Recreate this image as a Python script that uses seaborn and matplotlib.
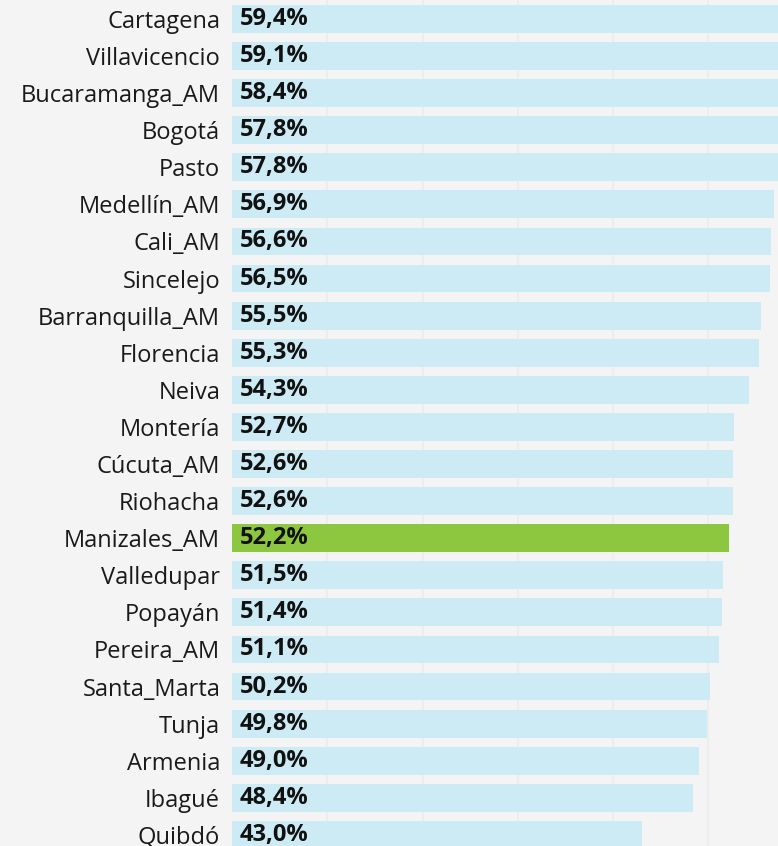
import pandas as pd
import matplotlib.pyplot as plt
import seaborn as sns

# Data
cities = ['Cartagena', 'Villavicencio', 'Bucaramanga_AM', 'Bogotá', 'Pasto',
          'Medellín_AM', 'Cali_AM', 'Sincelejo', 'Barranquilla_AM', 'Florencia',
          'Neiva', 'Montería', 'Cúcuta_AM', 'Riohacha', 'Manizales_AM',
          'Valledupar', 'Popayán', 'Pereira_AM', 'Santa_Marta', 'Tunja',
          'Armenia', 'Ibagué', 'Quibdó']
values = [59.4, 59.1, 58.4, 57.8, 57.8, 56.9, 56.6, 56.5, 55.5, 55.3,
          54.3, 52.7, 52.6, 52.6, 52.2, 51.5, 51.4, 51.1, 50.2, 49.8,
          49.0, 48.4, 43.0]
highlight_city = 'Manizales_AM'

BG = '#f4f4f4'
BAR = '#cdebf4'
GREEN = '#8dc63f'


def main():
    sns.set_theme(style='white')
    plt.rcParams['font.family'] = ['Open Sans', 'DejaVu Sans']

    df = pd.DataFrame({'city': cities, 'value': values})
    df['group'] = ['hi' if c == highlight_city else 'lo' for c in df['city']]

    fig = plt.figure(figsize=(7.78, 8.46), dpi=100, facecolor=BG)
    ax = fig.add_axes([232 / 778, 0, 1 - 232 / 778, 1])
    ax.set_facecolor(BG)

    sns.barplot(data=df, x='value', y='city', hue='group',
                palette={'hi': GREEN, 'lo': BAR}, orient='h',
                width=0.75, legend=False, dodge=False, saturation=1,
                linewidth=0, ax=ax, zorder=2)

    # value labels inside bars
    for i, v in enumerate(values):
        ax.annotate(f"{v:.1f}".replace('.', ',') + '%', xy=(0, i),
                    xytext=(5.8, 0), textcoords='offset points',
                    ha='left', va='center', fontsize=17,
                    fontweight='bold', color='#111111', zorder=3)

    ax.set_xlim(0, 57.3)
    ax.set_ylim(22.3, -0.51)
    ax.set_xticks([10, 20, 30, 40, 50])
    ax.xaxis.grid(True, color='#ededed', linewidth=1.5, zorder=0)
    ax.set_axisbelow(True)
    ax.tick_params(axis='x', length=0, labelbottom=False)
    ax.tick_params(axis='y', length=0, pad=8.5, labelsize=17,
                   labelcolor='#1a1a1a')
    ax.set_xlabel('')
    ax.set_ylabel('')
    for s in ax.spines.values():
        s.set_visible(False)

    fig.savefig('out.png', dpi=100, facecolor=BG)


if __name__ == "__main__":
    main()
